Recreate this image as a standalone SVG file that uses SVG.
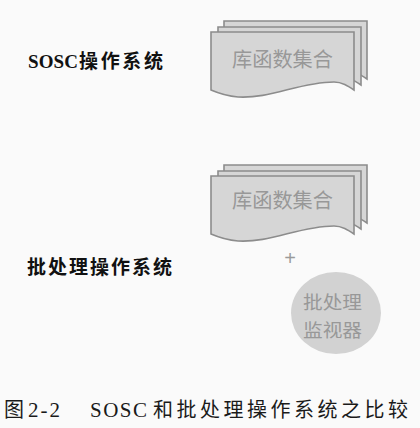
<svg xmlns="http://www.w3.org/2000/svg" width="420" height="428" viewBox="0 0 420 428">
<style>
.sheet{fill:#d6d6d6;stroke:#8c8c8c;stroke-width:1.6}
.box{font-family:"Noto Sans CJK SC","Noto Sans",sans-serif;font-size:20px;fill:#989898}
.mon{font-family:"Noto Sans CJK SC","Noto Sans",sans-serif;font-size:18px;fill:#989898}
.lbl{font-family:"Noto Sans CJK SC",sans-serif;font-size:19px;font-weight:bold;fill:#111}
.lat{font-family:"Liberation Serif","Noto Sans CJK SC",serif}
.cap{font-family:"Liberation Serif","Noto Sans CJK SC",serif;font-size:21px;fill:#1a1a1a}
.capc{font-family:"Noto Sans CJK SC",sans-serif;font-size:20px;fill:#1a1a1a}
</style>
<defs>
<path id="doc" d="M211,32 L354,32 L354,90 C348,86 342,82 334,82 C300,82 270,99 238,97 C226,96 218,93 211,90 Z"/>
<g id="stack">
<use href="#doc" class="sheet" transform="translate(13,-11)"/>
<use href="#doc" class="sheet" transform="translate(7,-5)"/>
<use href="#doc" class="sheet"/>
</g>
</defs>
<rect width="420" height="428" fill="#fafafa"/>
<g id="sosc-label">
<text class="lbl" x="28" y="68"><tspan class="lat" textLength="50">SOSC</tspan><tspan x="79" textLength="84">操作系统</tspan></text>
</g>
<g id="sosc-lib">
<use href="#stack"/>
<text class="box" x="232" y="67" textLength="101" lengthAdjust="spacingAndGlyphs">库函数集合</text>
</g>
<g id="batch-lib">
<use href="#stack" transform="translate(0,144)"/>
<text class="box" x="232" y="208" textLength="101" lengthAdjust="spacingAndGlyphs">库函数集合</text>
</g>
<g id="batch-label">
<text class="lbl" x="27" y="274" textLength="145">批处理操作系统</text>
</g>
<g id="plus">
<text x="290" y="265" text-anchor="middle" font-family="Liberation Sans,sans-serif" font-size="20" fill="#9a9a9a">+</text>
</g>
<g id="monitor">
<ellipse cx="336" cy="313" rx="45" ry="41" fill="#d2d2d2"/>
<text class="mon" x="303" y="309" textLength="59" lengthAdjust="spacingAndGlyphs">批处理</text>
<text class="mon" x="303" y="337" textLength="59" lengthAdjust="spacingAndGlyphs">监视器</text>
</g>
<g id="caption">
<text class="capc" x="4" y="417">图</text>
<text class="cap" x="28" y="417" textLength="32">2-2</text>
<text class="cap" x="90" y="417" textLength="57">SOSC</text>
<text class="capc" x="153" y="417" textLength="255">和批处理操作系统之比较</text>
</g>
</svg>
